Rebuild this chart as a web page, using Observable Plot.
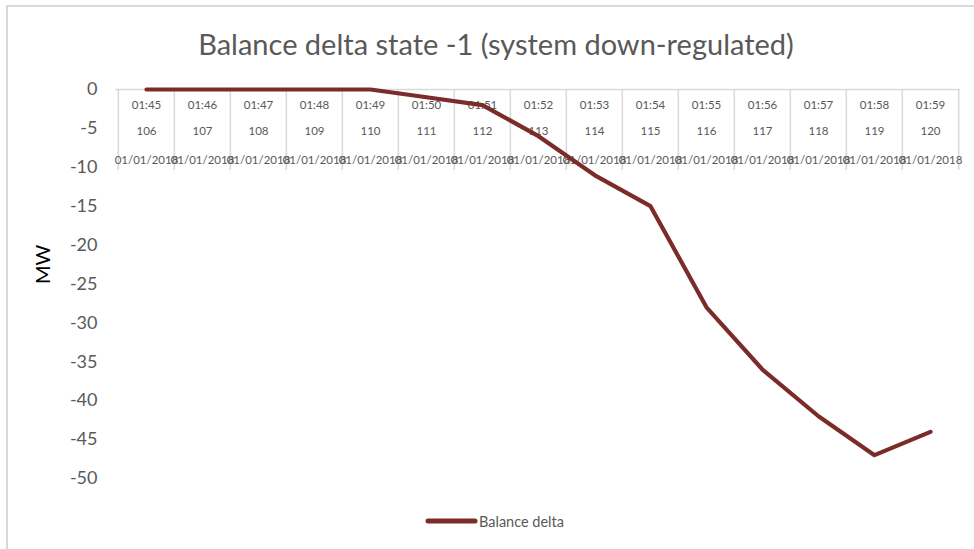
<!DOCTYPE html>
<html>
<head>
<meta charset="utf-8">
<script src="https://cdn.jsdelivr.net/npm/d3@7"></script>
<script src="https://cdn.jsdelivr.net/npm/@observablehq/plot@0.6"></script>
<style>
  body { margin: 0; background: #fff; font-family: Lato, "Open Sans", sans-serif; }
  #chart { position: relative; width: 974px; height: 549px; overflow: hidden; background: #fff; }
  #frame { position: absolute; left: 6px; top: 5px; right: -10px; bottom: -10px;
           border-top: 2px solid #d9d9d9; border-left: 2px solid #d9d9d9; pointer-events: none; }
  #plot { position: absolute; left: 0; top: 0; }
  #title { position: absolute; left: 0; width: 992px; top: 27px; text-align: center;
           font-size: 29px; color: #595959; line-height: 34px; white-space: nowrap; }
  #legend { position: absolute; left: 425px; top: 511px; height: 20px; display: flex;
            align-items: center; font-size: 14.5px; color: #595959; white-space: nowrap; }
  #legend svg { display: block; margin-right: 1px; }
</style>
</head>
<body>
<div id="chart">
  <div id="plot"></div>
  <div id="title">Balance delta state -1 (system down-regulated)</div>
  <div id="legend"></div>
  <div id="frame"></div>
</div>
<script>
// Minute-by-minute settlement periods on 01/01/2018
const times = ["01:45", "01:46", "01:47", "01:48", "01:49", "01:50", "01:51", "01:52",
               "01:53", "01:54", "01:55", "01:56", "01:57", "01:58", "01:59"];
const periods = [106, 107, 108, 109, 110, 111, 112, 113, 114, 115, 116, 117, 118, 119, 120];
const dates = ["01/01/2018", "01/01/2018", "01/01/2018", "01/01/2018", "01/01/2018",
               "01/01/2018", "01/01/2018", "01/01/2018", "01/01/2018", "01/01/2018",
               "01/01/2018", "01/01/2018", "01/01/2018", "01/01/2018", "01/01/2018"];
// Balance delta (MW)
const balanceDelta = [0, 0, 0, 0, 0, -1, -2, -6, -11, -15, -28, -36, -42, -47, -44];
const yTicks = [0, -5, -10, -15, -20, -25, -30, -35, -40, -45, -50];

const seriesName = "Balance delta";
const lineColor = "#7b2b28";
const gridColor = "#d9d9d9";
const textColor = "#595959";

const rows = periods.map((p, i) => ({period: p, time: times[i], date: dates[i], value: balanceDelta[i]}));

const W = 974, H = 549;
const xRange = [115, 960];
const step = (xRange[1] - xRange[0]) / periods.length;

const chart = Plot.plot({
  width: W,
  height: H,
  marginTop: 89,
  marginBottom: 71,
  marginLeft: xRange[0],
  marginRight: W - xRange[1],
  style: {fontFamily: "Lato, 'Open Sans', sans-serif", color: textColor, background: "transparent", overflow: "visible"},
  x: {type: "point", domain: periods, range: xRange, padding: 0.5, axis: null},
  y: {domain: [-50, 0], axis: null},
  marks: [
    // category axis crossing at zero
    Plot.ruleY([0], {stroke: gridColor, strokeWidth: 1.5}),
    // separators between categories, running through the label rows
    Plot.ruleX(rows, {x: "period", y1: () => 0, y2: () => 0, dx: -step / 2, insetBottom: -81, stroke: gridColor, strokeWidth: 1.5}),
    Plot.ruleX(rows.slice(-1), {x: "period", y1: () => 0, y2: () => 0, dx: step / 2, insetBottom: -81, stroke: gridColor, strokeWidth: 1.5}),
    // multi-level category labels
    Plot.text(rows, {x: "period", y: () => 0, text: "time", dy: 16, fontSize: 11.5, fill: textColor}),
    Plot.text(rows, {x: "period", y: () => 0, text: (d) => String(d.period), dy: 42, fontSize: 11.5, fill: textColor}),
    Plot.text(rows, {x: "period", y: () => 0, text: "date", dy: 71, fontSize: 11.5, fill: textColor}),
    // value axis
    Plot.axisY(yTicks, {tickSize: 0, tickPadding: 18, fontSize: 18, fill: textColor, tickFormat: (d) => String(d), label: null}),
    Plot.text(["MW"], {frameAnchor: "left", dx: -72, rotate: -90, fontSize: 20, fill: "#000"}),
    // series
    Plot.line(rows, {x: "period", y: "value", stroke: lineColor, strokeWidth: 4.2, strokeLinejoin: "round", strokeLinecap: "round"})
  ]
});
document.getElementById("plot").appendChild(chart);

// legend
const legend = document.getElementById("legend");
const sw = d3.create("svg").attr("width", 53).attr("height", 10);
sw.append("line").attr("x1", 3).attr("x2", 50).attr("y1", 5).attr("y2", 5)
  .attr("stroke", lineColor).attr("stroke-width", 5).attr("stroke-linecap", "round");
legend.appendChild(sw.node());
const lt = document.createElement("span");
lt.textContent = seriesName;
legend.appendChild(lt);
</script>
</body>
</html>
